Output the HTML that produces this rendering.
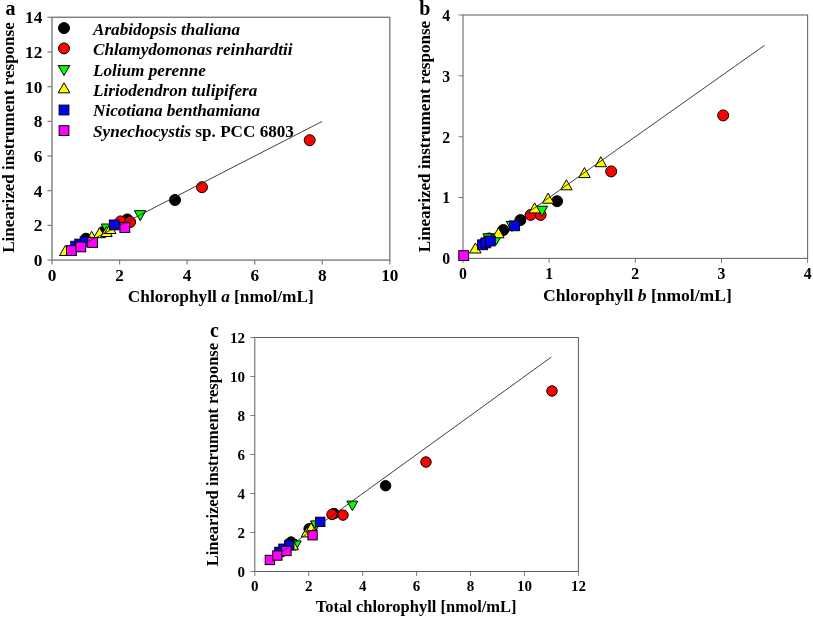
<!DOCTYPE html>
<html><head><meta charset="utf-8"><title>Chlorophyll calibration</title>
<style>
html,body{margin:0;padding:0;background:#fff;}
svg{display:block;will-change:transform;}
.t{font-family:"Liberation Serif", serif;font-weight:bold;fill:#000;}
.p{font-family:"Liberation Serif", serif;font-weight:bold;font-size:20px;fill:#000;}
</style></head>
<body>
<svg width="813" height="617" viewBox="0 0 813 617">
<rect width="813" height="617" fill="#fff"/>
<rect x="52" y="17.3" width="337.8" height="242.8" fill="none" stroke="#7c7c7c" stroke-width="1.4"/>
<line x1="52.0" y1="260.1" x2="52.0" y2="264.6" stroke="#7c7c7c" stroke-width="1.2"/>
<text x="52.0" y="280.6" text-anchor="middle" class="t" font-size="17.3">0</text>
<line x1="119.6" y1="260.1" x2="119.6" y2="264.6" stroke="#7c7c7c" stroke-width="1.2"/>
<text x="119.6" y="280.6" text-anchor="middle" class="t" font-size="17.3">2</text>
<line x1="187.1" y1="260.1" x2="187.1" y2="264.6" stroke="#7c7c7c" stroke-width="1.2"/>
<text x="187.1" y="280.6" text-anchor="middle" class="t" font-size="17.3">4</text>
<line x1="254.7" y1="260.1" x2="254.7" y2="264.6" stroke="#7c7c7c" stroke-width="1.2"/>
<text x="254.7" y="280.6" text-anchor="middle" class="t" font-size="17.3">6</text>
<line x1="322.2" y1="260.1" x2="322.2" y2="264.6" stroke="#7c7c7c" stroke-width="1.2"/>
<text x="322.2" y="280.6" text-anchor="middle" class="t" font-size="17.3">8</text>
<line x1="389.8" y1="260.1" x2="389.8" y2="264.6" stroke="#7c7c7c" stroke-width="1.2"/>
<text x="389.8" y="280.6" text-anchor="middle" class="t" font-size="17.3">10</text>
<line x1="47.5" y1="260.1" x2="52" y2="260.1" stroke="#7c7c7c" stroke-width="1.2"/>
<text x="42.4" y="265.9" text-anchor="end" class="t" font-size="17.3">0</text>
<line x1="47.5" y1="225.4" x2="52" y2="225.4" stroke="#7c7c7c" stroke-width="1.2"/>
<text x="42.4" y="231.2" text-anchor="end" class="t" font-size="17.3">2</text>
<line x1="47.5" y1="190.7" x2="52" y2="190.7" stroke="#7c7c7c" stroke-width="1.2"/>
<text x="42.4" y="196.5" text-anchor="end" class="t" font-size="17.3">4</text>
<line x1="47.5" y1="156.0" x2="52" y2="156.0" stroke="#7c7c7c" stroke-width="1.2"/>
<text x="42.4" y="161.8" text-anchor="end" class="t" font-size="17.3">6</text>
<line x1="47.5" y1="121.4" x2="52" y2="121.4" stroke="#7c7c7c" stroke-width="1.2"/>
<text x="42.4" y="127.2" text-anchor="end" class="t" font-size="17.3">8</text>
<line x1="47.5" y1="86.7" x2="52" y2="86.7" stroke="#7c7c7c" stroke-width="1.2"/>
<text x="42.4" y="92.5" text-anchor="end" class="t" font-size="17.3">10</text>
<line x1="47.5" y1="52.0" x2="52" y2="52.0" stroke="#7c7c7c" stroke-width="1.2"/>
<text x="42.4" y="57.8" text-anchor="end" class="t" font-size="17.3">12</text>
<line x1="47.5" y1="17.3" x2="52" y2="17.3" stroke="#7c7c7c" stroke-width="1.2"/>
<text x="42.4" y="23.1" text-anchor="end" class="t" font-size="17.3">14</text>
<text x="220.8" y="301.9" text-anchor="middle" class="t" font-size="17.3">Chlorophyll <tspan font-style="italic">a</tspan> [nmol/mL]</text>
<text transform="translate(13.5,137.5) rotate(-90)" text-anchor="middle" class="t" font-size="17.05">Linearized instrument response</text>
<text x="5.5" y="14.6" class="p">a</text>
<circle cx="86.0" cy="238.7" r="5.5" fill="#000000" stroke="#000" stroke-width="1"/>
<circle cx="103.5" cy="231.8" r="5.5" fill="#000000" stroke="#000" stroke-width="1"/>
<circle cx="127.3" cy="219.4" r="5.5" fill="#000000" stroke="#000" stroke-width="1"/>
<circle cx="175.0" cy="200.0" r="5.5" fill="#000000" stroke="#000" stroke-width="1"/>
<circle cx="120.6" cy="221.4" r="5.5" fill="#ff0000" stroke="#000" stroke-width="1"/>
<circle cx="130.1" cy="222.0" r="5.5" fill="#ff0000" stroke="#000" stroke-width="1"/>
<circle cx="202.0" cy="187.2" r="5.5" fill="#ff0000" stroke="#000" stroke-width="1"/>
<circle cx="309.7" cy="140.2" r="5.5" fill="#ff0000" stroke="#000" stroke-width="1"/>
<polygon points="101.2,224.0 112.8,224.0 107.0,234.0" fill="#00ff00" stroke="#000" stroke-width="1" stroke-linejoin="miter"/>
<polygon points="134.4,210.7 145.9,210.7 140.2,220.7" fill="#00ff00" stroke="#000" stroke-width="1" stroke-linejoin="miter"/>
<polygon points="59.5,255.5 71.0,255.5 65.3,245.5" fill="#ffff00" stroke="#000" stroke-width="1" stroke-linejoin="miter"/>
<polygon points="86.0,241.3 97.5,241.3 91.7,231.3" fill="#ffff00" stroke="#000" stroke-width="1" stroke-linejoin="miter"/>
<polygon points="93.8,237.7 105.3,237.7 99.6,227.7" fill="#ffff00" stroke="#000" stroke-width="1" stroke-linejoin="miter"/>
<polygon points="100.8,236.5 112.2,236.5 106.5,226.5" fill="#ffff00" stroke="#000" stroke-width="1" stroke-linejoin="miter"/>
<polygon points="104.5,233.5 116.0,233.5 110.2,223.5" fill="#ffff00" stroke="#000" stroke-width="1" stroke-linejoin="miter"/>
<rect x="70.8" y="241.3" width="9.8" height="9.8" fill="#0000ff" stroke="#000" stroke-width="1"/>
<rect x="74.8" y="239.2" width="9.8" height="9.8" fill="#0000ff" stroke="#000" stroke-width="1"/>
<rect x="80.2" y="236.8" width="9.8" height="9.8" fill="#0000ff" stroke="#000" stroke-width="1"/>
<rect x="109.4" y="220.0" width="9.8" height="9.8" fill="#0000ff" stroke="#000" stroke-width="1"/>
<rect x="66.5" y="245.7" width="9.8" height="9.8" fill="#ff00ff" stroke="#000" stroke-width="1"/>
<rect x="75.9" y="242.0" width="9.8" height="9.8" fill="#ff00ff" stroke="#000" stroke-width="1"/>
<rect x="87.6" y="237.6" width="9.8" height="9.8" fill="#ff00ff" stroke="#000" stroke-width="1"/>
<rect x="119.9" y="222.7" width="9.8" height="9.8" fill="#ff00ff" stroke="#000" stroke-width="1"/>
<line x1="85.8" y1="242.8" x2="322.2" y2="121.4" stroke="#2a2a2a" stroke-width="0.9"/>
<circle cx="64.0" cy="28.1" r="5.5" fill="#000000" stroke="#000" stroke-width="1"/>
<text x="93" y="34.8" class="t" font-size="17.15" font-style="italic">Arabidopsis thaliana</text>
<circle cx="64.0" cy="48.4" r="5.5" fill="#ff0000" stroke="#000" stroke-width="1"/>
<text x="93" y="55.0" class="t" font-size="17.15" font-style="italic">Chlamydomonas reinhardtii</text>
<polygon points="58.2,65.6 69.8,65.6 64.0,75.6" fill="#00ff00" stroke="#000" stroke-width="1" stroke-linejoin="miter"/>
<text x="93" y="76.4" class="t" font-size="17.15" font-style="italic">Lolium perenne</text>
<polygon points="58.2,92.8 69.8,92.8 64.0,82.8" fill="#ffff00" stroke="#000" stroke-width="1" stroke-linejoin="miter"/>
<text x="93" y="95.6" class="t" font-size="17.15" font-style="italic">Liriodendron tulipifera</text>
<rect x="59.1" y="105.1" width="9.8" height="9.8" fill="#0000ff" stroke="#000" stroke-width="1"/>
<text x="93" y="116.4" class="t" font-size="17.15" font-style="italic">Nicotiana benthamiana</text>
<rect x="59.1" y="125.7" width="9.8" height="9.8" fill="#ff00ff" stroke="#000" stroke-width="1"/>
<text x="93" y="137.2" class="t" font-size="17.15"><tspan font-style="italic">Synechocystis</tspan> sp. PCC 6803</text>
<rect x="463" y="15" width="344.6" height="243.39999999999998" fill="none" stroke="#6a6a6a" stroke-width="1.1"/>
<line x1="463.0" y1="258.4" x2="463.0" y2="262.9" stroke="#6a6a6a" stroke-width="0.9"/>
<text x="463.0" y="279.2" text-anchor="middle" class="t" font-size="15.8">0</text>
<line x1="549.1" y1="258.4" x2="549.1" y2="262.9" stroke="#6a6a6a" stroke-width="0.9"/>
<text x="549.1" y="279.2" text-anchor="middle" class="t" font-size="15.8">1</text>
<line x1="635.3" y1="258.4" x2="635.3" y2="262.9" stroke="#6a6a6a" stroke-width="0.9"/>
<text x="635.3" y="279.2" text-anchor="middle" class="t" font-size="15.8">2</text>
<line x1="721.5" y1="258.4" x2="721.5" y2="262.9" stroke="#6a6a6a" stroke-width="0.9"/>
<text x="721.5" y="279.2" text-anchor="middle" class="t" font-size="15.8">3</text>
<line x1="807.6" y1="258.4" x2="807.6" y2="262.9" stroke="#6a6a6a" stroke-width="0.9"/>
<text x="807.6" y="279.2" text-anchor="middle" class="t" font-size="15.8">4</text>
<line x1="458.5" y1="258.4" x2="463" y2="258.4" stroke="#6a6a6a" stroke-width="0.9"/>
<text x="450.2" y="264.2" text-anchor="end" class="t" font-size="15.8">0</text>
<line x1="458.5" y1="197.5" x2="463" y2="197.5" stroke="#6a6a6a" stroke-width="0.9"/>
<text x="450.2" y="203.3" text-anchor="end" class="t" font-size="15.8">1</text>
<line x1="458.5" y1="136.7" x2="463" y2="136.7" stroke="#6a6a6a" stroke-width="0.9"/>
<text x="450.2" y="142.5" text-anchor="end" class="t" font-size="15.8">2</text>
<line x1="458.5" y1="75.8" x2="463" y2="75.8" stroke="#6a6a6a" stroke-width="0.9"/>
<text x="450.2" y="81.6" text-anchor="end" class="t" font-size="15.8">3</text>
<line x1="458.5" y1="15.0" x2="463" y2="15.0" stroke="#6a6a6a" stroke-width="0.9"/>
<text x="450.2" y="20.8" text-anchor="end" class="t" font-size="15.8">4</text>
<text x="637.4" y="300.9" text-anchor="middle" class="t" font-size="17.55">Chlorophyll <tspan font-style="italic">b</tspan> [nmol/mL]</text>
<text transform="translate(429.5,136.5) rotate(-90)" text-anchor="middle" class="t" font-size="17.1">Linearized instrument response</text>
<text x="419.3" y="14.7" class="p">b</text>
<circle cx="489.0" cy="238.5" r="5.5" fill="#000000" stroke="#000" stroke-width="1"/>
<circle cx="503.3" cy="230.0" r="5.5" fill="#000000" stroke="#000" stroke-width="1"/>
<circle cx="520.4" cy="220.1" r="5.5" fill="#000000" stroke="#000" stroke-width="1"/>
<circle cx="557.1" cy="201.2" r="5.5" fill="#000000" stroke="#000" stroke-width="1"/>
<circle cx="530.7" cy="214.9" r="5.5" fill="#ff0000" stroke="#000" stroke-width="1"/>
<circle cx="540.6" cy="214.9" r="5.5" fill="#ff0000" stroke="#000" stroke-width="1"/>
<circle cx="611.2" cy="171.4" r="5.5" fill="#ff0000" stroke="#000" stroke-width="1"/>
<circle cx="723.2" cy="115.4" r="5.5" fill="#ff0000" stroke="#000" stroke-width="1"/>
<polygon points="482.9,233.8 494.4,233.8 488.7,243.8" fill="#00ff00" stroke="#000" stroke-width="1" stroke-linejoin="miter"/>
<polygon points="490.6,234.7 502.1,234.7 496.3,244.7" fill="#00ff00" stroke="#000" stroke-width="1" stroke-linejoin="miter"/>
<polygon points="506.2,221.4 517.8,221.4 512.0,231.4" fill="#00ff00" stroke="#000" stroke-width="1" stroke-linejoin="miter"/>
<polygon points="536.1,206.2 547.6,206.2 541.9,216.2" fill="#00ff00" stroke="#000" stroke-width="1" stroke-linejoin="miter"/>
<polygon points="469.6,253.0 481.1,253.0 475.4,243.0" fill="#ffff00" stroke="#000" stroke-width="1" stroke-linejoin="miter"/>
<polygon points="492.6,237.8 504.1,237.8 498.4,227.8" fill="#ffff00" stroke="#000" stroke-width="1" stroke-linejoin="miter"/>
<polygon points="528.9,212.9 540.4,212.9 534.6,202.9" fill="#ffff00" stroke="#000" stroke-width="1" stroke-linejoin="miter"/>
<polygon points="542.4,203.2 553.9,203.2 548.1,193.2" fill="#ffff00" stroke="#000" stroke-width="1" stroke-linejoin="miter"/>
<polygon points="560.6,189.8 572.1,189.8 566.4,179.8" fill="#ffff00" stroke="#000" stroke-width="1" stroke-linejoin="miter"/>
<polygon points="578.7,177.6 590.2,177.6 584.5,167.6" fill="#ffff00" stroke="#000" stroke-width="1" stroke-linejoin="miter"/>
<polygon points="595.1,166.7 606.6,166.7 600.8,156.7" fill="#ffff00" stroke="#000" stroke-width="1" stroke-linejoin="miter"/>
<rect x="477.6" y="239.9" width="9.8" height="9.8" fill="#0000ff" stroke="#000" stroke-width="1"/>
<rect x="480.9" y="238.0" width="9.8" height="9.8" fill="#0000ff" stroke="#000" stroke-width="1"/>
<rect x="485.4" y="236.1" width="9.8" height="9.8" fill="#0000ff" stroke="#000" stroke-width="1"/>
<rect x="509.6" y="220.9" width="9.8" height="9.8" fill="#0000ff" stroke="#000" stroke-width="1"/>
<rect x="458.8" y="250.7" width="9.8" height="9.8" fill="#ff00ff" stroke="#000" stroke-width="1"/>
<line x1="506.1" y1="228.0" x2="764.5" y2="45.4" stroke="#2a2a2a" stroke-width="0.9"/>
<rect x="254.8" y="337.5" width="323.59999999999997" height="234.0" fill="none" stroke="#5e5e5e" stroke-width="1.0"/>
<line x1="254.8" y1="571.5" x2="254.8" y2="576.0" stroke="#5e5e5e" stroke-width="0.8"/>
<text x="254.8" y="590.7" text-anchor="middle" class="t" font-size="15">0</text>
<line x1="308.7" y1="571.5" x2="308.7" y2="576.0" stroke="#5e5e5e" stroke-width="0.8"/>
<text x="308.7" y="590.7" text-anchor="middle" class="t" font-size="15">2</text>
<line x1="362.7" y1="571.5" x2="362.7" y2="576.0" stroke="#5e5e5e" stroke-width="0.8"/>
<text x="362.7" y="590.7" text-anchor="middle" class="t" font-size="15">4</text>
<line x1="416.6" y1="571.5" x2="416.6" y2="576.0" stroke="#5e5e5e" stroke-width="0.8"/>
<text x="416.6" y="590.7" text-anchor="middle" class="t" font-size="15">6</text>
<line x1="470.5" y1="571.5" x2="470.5" y2="576.0" stroke="#5e5e5e" stroke-width="0.8"/>
<text x="470.5" y="590.7" text-anchor="middle" class="t" font-size="15">8</text>
<line x1="524.5" y1="571.5" x2="524.5" y2="576.0" stroke="#5e5e5e" stroke-width="0.8"/>
<text x="524.5" y="590.7" text-anchor="middle" class="t" font-size="15">10</text>
<line x1="578.4" y1="571.5" x2="578.4" y2="576.0" stroke="#5e5e5e" stroke-width="0.8"/>
<text x="578.4" y="590.7" text-anchor="middle" class="t" font-size="15">12</text>
<line x1="250.3" y1="571.5" x2="254.8" y2="571.5" stroke="#5e5e5e" stroke-width="0.8"/>
<text x="244.9" y="576.5" text-anchor="end" class="t" font-size="15">0</text>
<line x1="250.3" y1="532.5" x2="254.8" y2="532.5" stroke="#5e5e5e" stroke-width="0.8"/>
<text x="244.9" y="537.5" text-anchor="end" class="t" font-size="15">2</text>
<line x1="250.3" y1="493.5" x2="254.8" y2="493.5" stroke="#5e5e5e" stroke-width="0.8"/>
<text x="244.9" y="498.5" text-anchor="end" class="t" font-size="15">4</text>
<line x1="250.3" y1="454.5" x2="254.8" y2="454.5" stroke="#5e5e5e" stroke-width="0.8"/>
<text x="244.9" y="459.5" text-anchor="end" class="t" font-size="15">6</text>
<line x1="250.3" y1="415.5" x2="254.8" y2="415.5" stroke="#5e5e5e" stroke-width="0.8"/>
<text x="244.9" y="420.5" text-anchor="end" class="t" font-size="15">8</text>
<line x1="250.3" y1="376.5" x2="254.8" y2="376.5" stroke="#5e5e5e" stroke-width="0.8"/>
<text x="244.9" y="381.5" text-anchor="end" class="t" font-size="15">10</text>
<line x1="250.3" y1="337.5" x2="254.8" y2="337.5" stroke="#5e5e5e" stroke-width="0.8"/>
<text x="244.9" y="342.5" text-anchor="end" class="t" font-size="15">12</text>
<text x="416.2" y="611.5" text-anchor="middle" class="t" font-size="16.5">Total chlorophyll [nmol/mL]</text>
<text transform="translate(218,454.6) rotate(-90)" text-anchor="middle" class="t" font-size="16.5">Linearized instrument response</text>
<text x="210" y="336.8" class="p">c</text>
<circle cx="291.0" cy="542.0" r="5.22" fill="#000000" stroke="#000" stroke-width="1"/>
<circle cx="309.1" cy="528.8" r="5.22" fill="#000000" stroke="#000" stroke-width="1"/>
<circle cx="334.0" cy="513.5" r="5.22" fill="#000000" stroke="#000" stroke-width="1"/>
<circle cx="385.6" cy="485.7" r="5.22" fill="#000000" stroke="#000" stroke-width="1"/>
<circle cx="332.0" cy="514.4" r="5.22" fill="#ff0000" stroke="#000" stroke-width="1"/>
<circle cx="343.0" cy="515.1" r="5.22" fill="#ff0000" stroke="#000" stroke-width="1"/>
<circle cx="426.0" cy="462.0" r="5.22" fill="#ff0000" stroke="#000" stroke-width="1"/>
<circle cx="552.0" cy="391.0" r="5.22" fill="#ff0000" stroke="#000" stroke-width="1"/>
<polygon points="285.7,539.5 296.7,539.5 291.2,549.0" fill="#00ff00" stroke="#000" stroke-width="1" stroke-linejoin="miter"/>
<polygon points="290.2,540.9 301.2,540.9 295.7,550.4" fill="#00ff00" stroke="#000" stroke-width="1" stroke-linejoin="miter"/>
<polygon points="310.5,520.9 321.5,520.9 316.0,530.4" fill="#00ff00" stroke="#000" stroke-width="1" stroke-linejoin="miter"/>
<polygon points="346.9,501.1 357.9,501.1 352.4,510.6" fill="#00ff00" stroke="#000" stroke-width="1" stroke-linejoin="miter"/>
<polygon points="287.5,549.8 298.5,549.8 293.0,540.2" fill="#ffff00" stroke="#000" stroke-width="1" stroke-linejoin="miter"/>
<polygon points="301.2,536.9 312.2,536.9 306.7,527.4" fill="#ffff00" stroke="#000" stroke-width="1" stroke-linejoin="miter"/>
<polygon points="305.6,532.2 316.6,532.2 311.1,522.8" fill="#ffff00" stroke="#000" stroke-width="1" stroke-linejoin="miter"/>
<rect x="274.7" y="547.3" width="9.31" height="9.31" fill="#0000ff" stroke="#000" stroke-width="1"/>
<rect x="278.8" y="544.1" width="9.31" height="9.31" fill="#0000ff" stroke="#000" stroke-width="1"/>
<rect x="284.6" y="540.7" width="9.31" height="9.31" fill="#0000ff" stroke="#000" stroke-width="1"/>
<rect x="315.6" y="517.2" width="9.31" height="9.31" fill="#0000ff" stroke="#000" stroke-width="1"/>
<rect x="265.2" y="555.3" width="9.31" height="9.31" fill="#ff00ff" stroke="#000" stroke-width="1"/>
<rect x="272.7" y="550.9" width="9.31" height="9.31" fill="#ff00ff" stroke="#000" stroke-width="1"/>
<rect x="281.8" y="546.3" width="9.31" height="9.31" fill="#ff00ff" stroke="#000" stroke-width="1"/>
<rect x="307.9" y="530.6" width="9.31" height="9.31" fill="#ff00ff" stroke="#000" stroke-width="1"/>
<line x1="281.8" y1="552.0" x2="551.4" y2="357.0" stroke="#2a2a2a" stroke-width="0.9"/>
</svg>
</body></html>
